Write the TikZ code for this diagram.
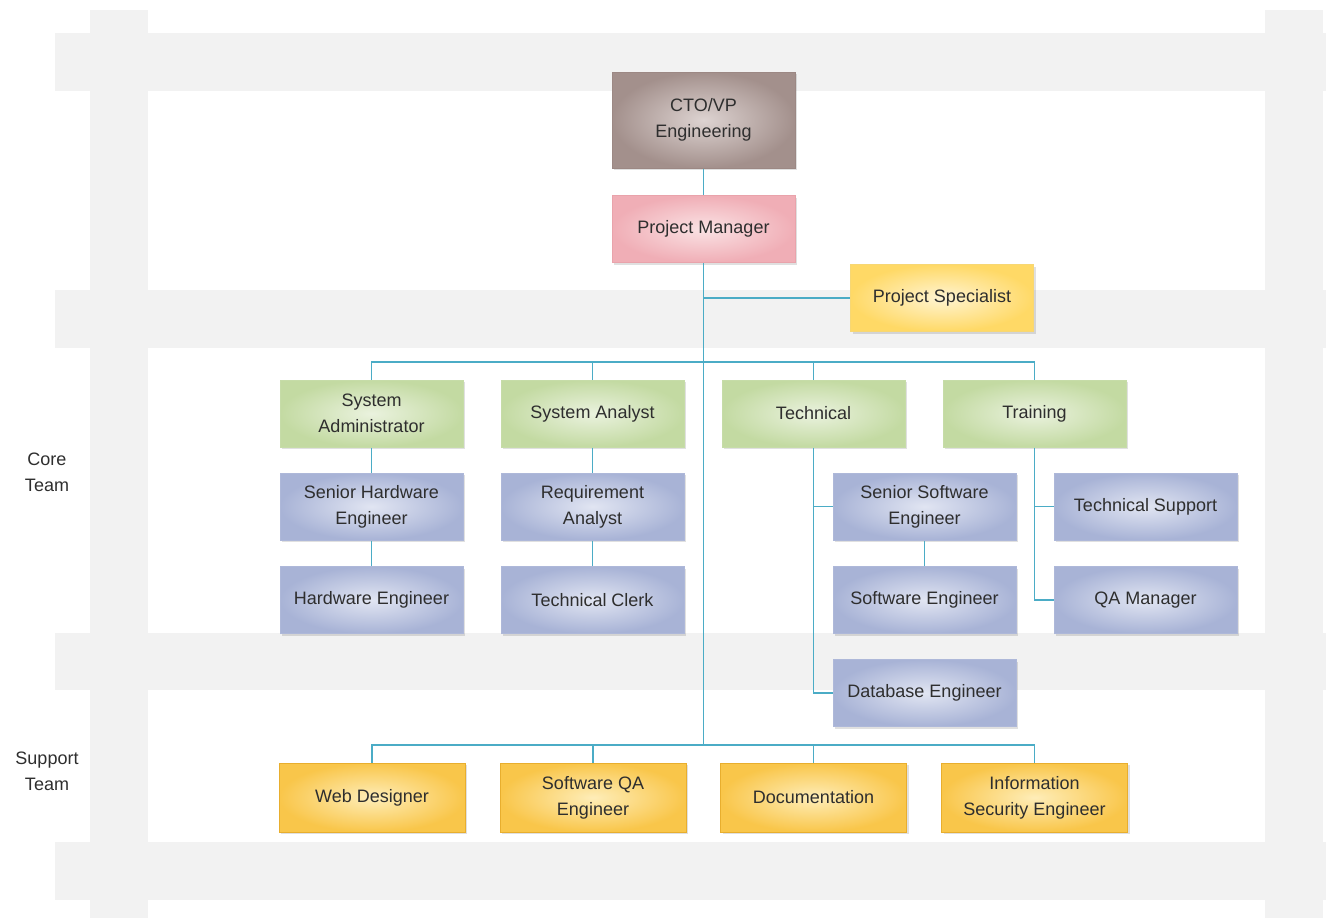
\documentclass[tikz,border=0pt]{standalone}
\usepackage{fontspec}
\setmainfont{Liberation Sans}
\usetikzlibrary{shadows}
\definecolor{bandgray}{HTML}{F2F2F2}
\definecolor{lineteal}{HTML}{4BACC6}
\definecolor{textdark}{HTML}{2E2E2E}
\definecolor{ctoOut}{HTML}{A3908C}\definecolor{ctoIn}{HTML}{DDD3D1}\definecolor{ctoBd}{HTML}{9C8884}
\definecolor{pmOut}{HTML}{F0AEB6}\definecolor{pmIn}{HTML}{FAE2E4}\definecolor{pmBd}{HTML}{E9A3AB}
\definecolor{psOut}{HTML}{FFD966}\definecolor{psIn}{HTML}{FFF4D2}\definecolor{psBd}{HTML}{F7D774}
\definecolor{grOut}{HTML}{C3DAA2}\definecolor{grIn}{HTML}{EAF2DE}\definecolor{grBd}{HTML}{C6DCA8}
\definecolor{blOut}{HTML}{A8B3D6}\definecolor{blIn}{HTML}{E1E5F2}\definecolor{blBd}{HTML}{AEB8D9}
\definecolor{yeOut}{HTML}{F9C64A}\definecolor{yeIn}{HTML}{FEEDB8}\definecolor{yeBd}{HTML}{E8AE2E}
\begin{document}
\begin{tikzpicture}[x=0.75pt,y=-0.75pt,
  box/.style={rectangle, minimum width=137.25pt, minimum height=50.25pt, align=center,
    font=\fontsize{13.5}{19.5}\selectfont, text=textdark, inner sep=2pt, line width=0.75pt,
    drop shadow={shadow xshift=1.5pt, shadow yshift=-1.5pt, fill=black, opacity=0.12}},
  ctobox/.style={box, minimum height=72pt, inner color=ctoIn, outer color=ctoOut, draw=ctoBd},
  pmbox/.style={box, inner color=pmIn, outer color=pmOut, draw=pmBd},
  psbox/.style={box, inner color=psIn, outer color=psOut, draw=psBd},
  grbox/.style={box, inner color=grIn, outer color=grOut, draw=grBd},
  blbox/.style={box, inner color=blIn, outer color=blOut, draw=blBd},
  yebox/.style={box, minimum width=139.5pt, minimum height=51.75pt, inner color=yeIn, outer color=yeOut, draw=yeBd},
  conn/.style={draw=lineteal, line width=1.4pt},
  lbl/.style={align=center, font=\fontsize{13.5}{19.5}\selectfont, text=textdark}]
\useasboundingbox (0,0) rectangle (1326,918);
% background bands
\fill[bandgray] (90,10) rectangle (148,918);
\fill[bandgray] (1265,10) rectangle (1323,918);
\fill[bandgray] (55,33) rectangle (1326,91);
\fill[bandgray] (55,290) rectangle (1326,348);
\fill[bandgray] (55,633) rectangle (1326,690);
\fill[bandgray] (55,842) rectangle (1326,900);
% labels
\node[lbl] (core) at (47,472) {Core\\Team};
\node[lbl] (support) at (47,771) {Support\\Team};
% coordinates for buses
\coordinate (ub) at (703.5,362);
\coordinate (tb) at (703.5,745);
% nodes
\node[ctobox] (cto) at (703.5,120) {CTO/VP\\Engineering};
\node[pmbox] (pm) at (703.5,229) {Project Manager};
\node[psbox] (ps) at (942,298) {Project Specialist};
\node[grbox] (sa) at (371.5,413.5) {System\\Administrator};
\node[grbox] (syan) at (592.5,413.5) {System Analyst};
\node[grbox] (tech) at (813.5,413.5) {Technical};
\node[grbox] (trn) at (1034.5,413.5) {Training};
\node[blbox] (shw) at (371.5,506.5) {Senior Hardware\\Engineer};
\node[blbox] (hw) at (371.5,600) {Hardware Engineer};
\node[blbox] (req) at (592.5,506.5) {Requirement\\Analyst};
\node[blbox] (clerk) at (592.5,600) {Technical Clerk};
\node[blbox] (ssw) at (924.5,506.5) {Senior Software\\Engineer};
\node[blbox] (swe) at (924.5,600) {Software Engineer};
\node[blbox] (db) at (924.5,693) {Database Engineer};
\node[blbox] (ts) at (1145.5,506.5) {Technical Support};
\node[blbox] (qa) at (1145.5,600) {QA Manager};
\node[yebox] (web) at (372,797.5) {Web Designer};
\node[yebox] (sqa) at (593,797.5) {Software QA\\Engineer};
\node[yebox] (doc) at (813.5,797.5) {Documentation};
\node[yebox] (ise) at (1034.5,797.5) {Information\\Security Engineer};
% connectors
\draw[conn] (cto.south) -- (pm.north);
\draw[conn] (pm.south) -- (tb);
\draw[conn] (pm.south |- ps.west) -- (ps.west);
\draw[conn] (sa.north) -- (sa.north |- ub) -- (trn.north |- ub) -- (trn.north);
\draw[conn] (syan.north |- ub) -- (syan.north);
\draw[conn] (tech.north |- ub) -- (tech.north);
\draw[conn] (sa.south) -- (shw.north);
\draw[conn] (shw.south) -- (hw.north);
\draw[conn] (syan.south) -- (req.north);
\draw[conn] (req.south) -- (clerk.north);
\draw[conn] (tech.south) |- (db.west);
\draw[conn] (tech.south |- ssw.west) -- (ssw.west);
\draw[conn] (ssw.south) -- (swe.north);
\draw[conn] (trn.south) |- (qa.west);
\draw[conn] (trn.south |- ts.west) -- (ts.west);
\draw[conn] (web.north) -- (web.north |- tb) -- (ise.north |- tb) -- (ise.north);
\draw[conn] (sqa.north |- tb) -- (sqa.north);
\draw[conn] (doc.north |- tb) -- (doc.north);
\end{tikzpicture}
\end{document}
